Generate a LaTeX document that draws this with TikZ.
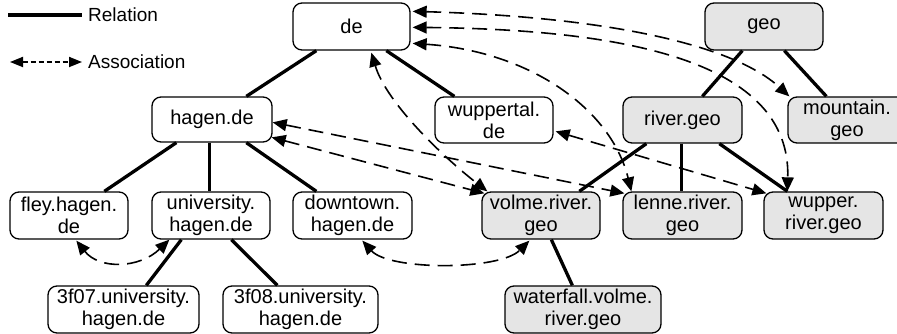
\documentclass[tikz,border=0pt]{standalone}
\usepackage{fontspec}
\setmainfont{Liberation Sans}
\usetikzlibrary{arrows.meta}
\definecolor{geofill}{HTML}{E5E5E5}
\begin{document}
\begin{tikzpicture}[x=1pt,y=-1pt,
  box/.style={draw, line width=1.3pt, rounded corners=9pt, align=center, inner sep=0pt,
    minimum width=118pt, minimum height=46pt, font=\fontsize{20}{22}\selectfont},
  geobox/.style={box, fill=geofill},
  rel/.style={line width=3.3pt},
  assoc/.style={line width=1.6pt, dash pattern=on 15pt off 8pt,
    {Triangle[length=14pt,width=12pt]}-{Triangle[length=14pt,width=12pt]}},
  legassoc/.style={line width=1.8pt, dash pattern=on 5pt off 3pt,
    {Triangle[length=13pt,width=10pt]}-{Triangle[length=13pt,width=10pt]}},
  legtext/.style={anchor=west, inner sep=0pt, font=\fontsize{19}{22}\selectfont}
]
\useasboundingbox (0,0) rectangle (897,334);
\clip (0,0) rectangle (897,334);

% legend
\coordinate (r1) at (8,15);
\coordinate (r2) at (82,15);
\draw[rel] (r1) -- (r2);
\node[legtext] (reltext) at (88,15) {Relation};
\coordinate (a1) at (10,62);
\coordinate (a2) at (82,62);
\draw[legassoc] (a1) -- (a2);
\node[legtext] (assoctext) at (88,62) {Association};

% nodes
\node[box, minimum width=117pt, minimum height=47pt] (de) at (351.5,26.5) {de};
\node[geobox, minimum height=47pt] (geo) at (764,26.5) {geo};
\node[box, minimum width=120pt, minimum height=45pt] (hagen) at (212,119.5) {hagen.de};
\node[box] (wuppertal) at (494,120) {wuppertal.\\de};
\node[geobox, minimum width=119pt] (river) at (682.5,120) {river.geo};
\node[geobox] (mountain) at (847,120) {mountain.\\geo};
\node[box, minimum height=47pt] (fley) at (69,215.5) {fley.hagen.\\de};
\node[box, minimum height=47pt] (univ) at (211,215.5) {university.\\hagen.de};
\node[box, minimum width=119pt, minimum height=47pt] (downtown) at (352.5,215.5) {downtown.\\hagen.de};
\node[geobox, minimum height=47pt] (volme) at (541,215.5) {volme.river.\\geo};
\node[geobox, minimum width=119pt, minimum height=47pt] (lenne) at (682.5,215.5) {lenne.river.\\geo};
\node[geobox, minimum width=119pt, minimum height=47pt] (wupper) at (823.5,215.5) {wupper.\\river.geo};
\node[box, minimum width=151pt, minimum height=47pt] (f07) at (123.5,309.5) {3f07.university.\\hagen.de};
\node[box, minimum width=155pt, minimum height=47pt] (f08) at (300.5,309.5) {3f08.university.\\hagen.de};
\node[geobox, minimum width=156pt, minimum height=47pt] (waterfall) at (583,309.5) {waterfall.volme.\\river.geo};

% relations
\draw[rel] ([xshift=24pt]de.south west) -- ([xshift=95pt]hagen.north west);
\draw[rel] ([xshift=94pt]de.south west) -- ([xshift=20pt]wuppertal.north west);
\draw[rel] ([xshift=25pt]hagen.south west) -- ([xshift=95pt]fley.north west);
\draw[rel] ([xshift=58pt]hagen.south west) -- ([xshift=58pt]univ.north west);
\draw[rel] ([xshift=95pt]hagen.south west) -- ([xshift=24pt]downtown.north west);
\draw[rel] ([xshift=30pt]univ.south west) -- ([xshift=99pt]f07.north west);
\draw[rel] ([xshift=80pt]univ.south west) -- ([xshift=55pt]f08.north west);
\draw[rel] ([xshift=38pt]geo.south west) -- ([xshift=80pt]river.north west);
\draw[rel] ([xshift=80pt]geo.south west) -- ([xshift=39pt]mountain.north west);
\draw[rel] ([xshift=24pt]river.south west) -- ([xshift=98pt]volme.north west);
\draw[rel] ([xshift=59pt]river.south west) -- ([xshift=59pt]lenne.north west);
\draw[rel] ([xshift=97pt]river.south west) -- ([xshift=24pt]wupper.north west);
\draw[rel] ([xshift=70pt]volme.south west) -- ([xshift=68pt]waterfall.north west);

% associations
\draw[assoc] ([shift={(2,9)}]de.north east) .. controls +(180,5) and +(-60,-55) .. ([xshift=2pt]mountain.north west);
\draw[assoc] ([shift={(2,25)}]de.north east) .. controls +(208,2) and +(4,-132) .. ([xshift=24pt]wupper.north west);
\draw[assoc] ([shift={(2,41)}]de.north east) .. controls +(118,8) and +(-20,-82) .. ([xshift=9pt]lenne.north west);
\draw[assoc] ([shift={(79,2)}]de.south west) .. controls +(15,50) and +(-45,-35) .. ([shift={(6,0)}]volme.north west);
\draw[assoc] ([shift={(0,26)}]hagen.north east) -- ([shift={(2,2)}]lenne.north west);
\draw[assoc] ([shift={(-1,41)}]hagen.north east) -- ([shift={(3,2)}]volme.north west);
\draw[assoc] ([shift={(2,35)}]wuppertal.north east) -- ([shift={(3,2)}]wupper.north west);
\draw[assoc] ([shift={(67,1)}]fley.south west) .. controls +(23,29) and +(-30,29) .. ([shift={(18,0)}]univ.south west);
\draw[assoc] ([shift={(70,1)}]downtown.south west) .. controls +(27,30) and +(-30,30) .. ([shift={(48,1)}]volme.south west);
\end{tikzpicture}
\end{document}
